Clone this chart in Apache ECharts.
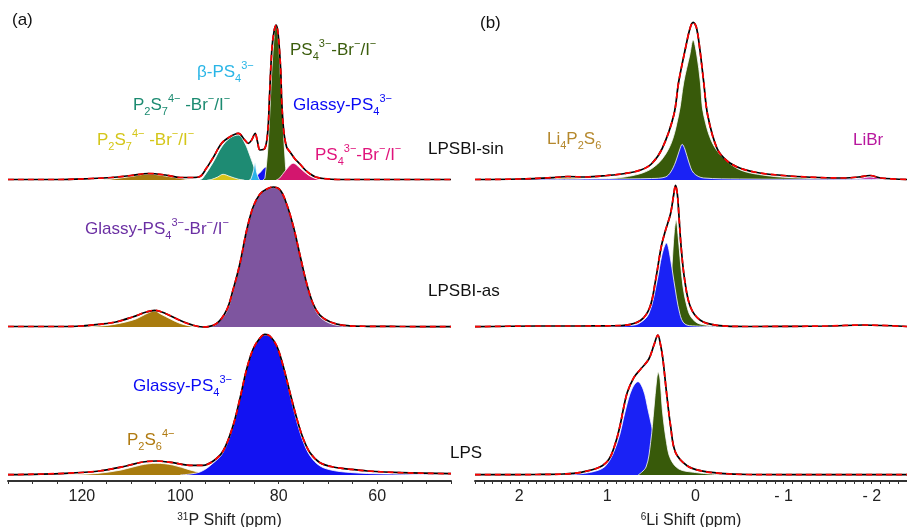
<!DOCTYPE html>
<html>
<head>
<meta charset="utf-8">
<script src="https://cdn.jsdelivr.net/npm/echarts@6/dist/echarts.min.js"></script>
<style>
  html, body { margin: 0; padding: 0; background: #fff; }
  #chart { width: 907px; height: 527px; }
</style>
</head>
<body>
<div id="chart"></div>
<script>
// ---------- 31P MAS NMR (panel a): [ppm, intensity] ----------
const pSinTotal = [[135,0.5],[125,0.5],[118,1.5],[114,2.5],[110,4.5],[106.5,6.5],[103,5],[100,2.5],[97.5,2.5],[96,3.5],[94.7,11.7],[93.4,21.7],[91.6,36.7],[89.9,43.3],[88.2,46.7],[86.9,40],[86.2,36.7],[85.5,40],[84.8,46.7],[84.3,38],[83.8,30],[82.8,31.7],[82.2,50],[81.9,80],[81.4,130],[80.9,150],[80.5,155],[80.1,145],[79.6,110],[79.4,80],[79.0,50],[78.4,33],[77.7,28],[76.7,21],[75.7,16],[74.6,10],[73.6,6],[72.5,3],[71,1.5],[68,0.5],[60,0.5],[45,0.5]];
const pSinP2S6 = [[116,0],[114.5,0.5],[110,3.5],[106.5,6],[103,4],[100,1.5],[98,0]];
const pSinP2S7 = [[96,0],[95.4,2],[93.4,17],[91.6,33],[89.9,42],[88.2,45],[86.9,37],[85.9,25],[84.8,10],[84.1,2],[83.8,0]];
const pSinP2S7b = [[94.5,0],[93.7,0.5],[92.4,3],[91.3,5.7],[89.9,3.5],[88.2,0.8],[87,0]];
const pSinBeta = [[85.9,0],[85.7,0.5],[85.2,8],[84.8,16.7],[84.5,8],[84.0,0.5],[83.8,0]];
const pSinGlassy = [[86,0],[85.6,0.5],[84.1,6],[82.4,13.3],[81.1,9],[79.8,3],[78.4,0.5],[77.5,0]];
const pSinPS4 = [[83.2,0],[82.8,2],[82.1,40],[81.4,110],[80.8,150],[80.5,155],[80.1,140],[79.4,80],[78.7,20],[78.4,5],[77.9,0]];
const pSinPS4b = [[80.5,0],[79.8,2],[78.7,9],[77.0,16.7],[75.7,12],[74.0,5],[72.3,1],[71,0]];

const pAsTotal = [[135,0.5],[125,0.5],[120,1],[116.4,2.7],[113.1,5],[109.7,10],[106.9,15],[105.2,16.7],[102.9,13.3],[100.1,6.7],[97.4,1.7],[95.4,0],[92.7,3.3],[90.6,16.7],[89.3,36.7],[87.9,63],[86.5,97],[85.2,120],[83.8,133],[82.4,138],[81.1,140],[79.7,137],[78.4,123],[77.0,100],[75.6,70],[74.3,43],[73.0,23],[71.6,11.7],[69.5,5],[66.8,1.7],[62,0.7],[55,0.5],[45,0.3]];
const pAsP2S6 = [[120,0],[118,0.5],[115,1.5],[112,4],[109,8],[107,13],[105.2,16],[104,13],[102,8],[100,3.5],[97.5,0.5],[96,0]];
const pAsGlassy = [[97,0],[94,0.5],[92.7,2.5],[90.6,15],[89.3,35],[87.9,62],[86.5,96],[85.2,119],[83.8,132],[82.4,137.5],[81.1,139.5],[79.7,136.5],[78.4,122],[77.0,99],[75.6,69],[74.3,42],[73.0,22],[71.6,10],[69.5,3.5],[66.8,0.8],[62,0]];

const pLpsTotal = [[135,0.3],[123.3,1.7],[116.5,4],[111,9],[107.6,13],[104.9,14],[101.5,12.3],[98.1,9.7],[95.4,9.7],[93.3,14],[91.3,24],[89.3,49],[87.9,76],[86.5,106],[85.2,126],[83.8,137],[82.8,140.7],[81.8,139],[80.4,129],[79.1,109],[77.7,82],[76.3,56],[75.0,36],[73.6,22],[71.6,12.3],[68.9,8],[65.4,5.7],[62,4],[55.2,2.3],[45,1.3]];
const pLpsP2S6 = [[124,0],[122,0.3],[117,1.5],[112,5],[108,10],[104.9,11.7],[101.5,10],[98,5],[95,1.5],[92,0]];
const pLpsGlassy = [[100,0],[96,3],[93.3,12],[91.3,22.5],[89.3,48],[87.9,75.5],[86.5,105.5],[85.2,125.5],[83.8,136.5],[82.8,140],[81.8,138.5],[80.4,128.5],[79.1,108],[77.7,80],[76.3,53],[75.0,33],[73.6,19],[71.6,9],[68.9,4.5],[65.4,2.5],[62,1.5],[55.2,0.8],[45,0.3]];

// ---------- 6Li MAS NMR (panel b): [ppm, intensity] ----------
const liSinTotal = [[2.5,0.5],[2.0,1],[1.6,2.5],[1.45,3.5],[1.25,3],[1.0,4.5],[0.8,6.5],[0.62,10],[0.5,16],[0.376,31.7],[0.245,65],[0.19,98],[0.113,131.7],[0.06,152],[0.026,157.7],[-0.01,153],[-0.049,131.7],[-0.094,98],[-0.139,65],[-0.245,31.7],[-0.36,19],[-0.51,11.7],[-0.73,7],[-1.07,4],[-1.4,2.5],[-1.7,2],[-1.85,3],[-1.98,4.5],[-2.1,2],[-2.4,0.5]];
const liSinPS4 = [[1.6,0.5],[1.2,1],[0.8,3],[0.49,11.7],[0.30,31.7],[0.19,65],[0.132,98],[0.064,125],[0.026,140],[-0.016,125],[-0.056,98],[-0.094,65],[-0.226,31.7],[-0.47,11.7],[-0.8,4.5],[-1.2,2],[-1.8,0.8],[-2.4,0.3]];
const liSinGlassy = [[2.4,0.5],[1.0,1],[0.5,1.5],[0.34,3],[0.28,8],[0.225,18],[0.18,30],[0.15,35.7],[0.12,31],[0.075,18],[0.02,7],[-0.094,2],[-0.5,1],[-1.5,0.7],[-2.4,0.5]];
const liSinLi4P2S6 = [[1.95,0],[1.7,1],[1.45,2.5],[1.2,1],[1.0,0]];
const liSinLiBr = [[-1.75,0],[-1.88,1.8],[-1.98,3],[-2.08,1.8],[-2.2,0]];

const liAsTotal = [[2.5,0.3],[1.8,1],[1.3,1],[1.0,1.2],[0.81,1.7],[0.62,6.7],[0.516,20],[0.452,46.7],[0.388,80],[0.339,96.7],[0.282,113.3],[0.245,133],[0.226,141.7],[0.205,133],[0.188,113],[0.162,80],[0.121,46.7],[0.056,20],[-0.056,6.7],[-0.245,1.7],[-0.6,0.5],[-1.5,1],[-1.9,2],[-2.4,0.5]];
const liAsPS4 = [[0.5,0],[0.35,3],[0.3,15],[0.264,63],[0.24,95],[0.218,107],[0.195,90],[0.17,65],[0.14,40],[0.1,22],[0.05,10],[-0.05,3],[-0.3,1],[-1,0]];
const liAsGlassy = [[1.2,0],[1.0,0.5],[0.75,1.5],[0.64,3.5],[0.528,13.3],[0.433,46.7],[0.38,72],[0.328,84],[0.29,72],[0.245,46.7],[0.177,13.3],[0.12,3],[0.0,1],[-0.5,0]];

const liLpsTotal = [[2.5,0.3],[1.8,0.5],[1.5,1],[1.3,2.7],[1.09,7.7],[0.979,16],[0.904,32.7],[0.855,49.3],[0.817,66],[0.772,82.7],[0.697,97.7],[0.62,106],[0.528,116],[0.47,130],[0.426,140],[0.395,130],[0.369,116],[0.328,82.7],[0.282,49.3],[0.226,22.7],[0.094,9.3],[-0.056,4.3],[-0.28,1.7],[-0.6,0.5],[-1.5,0.3],[-2.4,0.3]];
const liLpsGlassy = [[1.5,0],[1.19,2.7],[1.017,9.3],[0.885,32.7],[0.79,66],[0.72,86],[0.652,93.3],[0.59,85],[0.539,66],[0.497,49.3],[0.452,32.7],[0.395,16],[0.28,6],[0.15,2.5],[0.02,1],[-0.5,0]];
const liLpsPS4 = [[0.65,0],[0.56,8],[0.508,32.7],[0.471,66],[0.44,95],[0.422,102.7],[0.4,95],[0.376,66],[0.328,32.7],[0.282,16],[0.188,6],[0.019,2.7],[-0.3,0]];

// axis tick labels
const pTickLabels = [120, 100, 80, 60];
const liTickLabels = [2, 1, 0, -1, -2];

// ---------- layout ----------
const FONT = 'Liberation Sans, Arial, sans-serif';
const OFF = { top: 301, mid: 154, bot: 6 };

function trace(g, data, off, color, dashed) {
  return {
    type: 'line', xAxisIndex: g, yAxisIndex: g,
    data: data.map(d => [d[0], d[1] + off]),
    smooth: 0.35, symbol: 'none', clip: false, silent: true,
    z: dashed ? 5 : 4,
    lineStyle: { color: color, width: 1.7, type: dashed ? [6, 4] : 'solid' }
  };
}
function peak(g, data, off, fill, z) {
  return {
    type: 'line', xAxisIndex: g, yAxisIndex: g,
    data: data.map(d => [d[0], d[1] + off]),
    smooth: 0.35, symbol: 'none', clip: false, silent: true,
    z: 2 + (z || 0) * 0.01,
    lineStyle: { color: '#ffffff', width: 0.8 },
    areaStyle: { color: fill, opacity: 1, origin: off }
  };
}
function spectrum(g, off, total, comps) {
  const s = comps.map((c, i) => peak(g, c[0], off, c[1], i));
  s.push(trace(g, total, off, '#000000', false));
  s.push(trace(g, total, off, '#ff0000', true));
  return s;
}

const C = {
  brown: '#a87b0e', teal: '#1e8b73', yellow: '#d6c41a', cyan: '#2bb3e8',
  blue: '#1212f2', green: '#3a5c0b', pink: '#d3166e', purple: '#7e559f',
  blue2: '#1a22f5', green2: '#385a0a', liBrown: '#c9a24a', liMag: '#b8179e'
};

const series = [].concat(
  spectrum(0, OFF.top, pSinTotal, [[pSinP2S6, C.brown], [pSinP2S7, C.teal], [pSinP2S7b, C.yellow], [pSinGlassy, C.blue], [pSinBeta, C.cyan], [pSinPS4, C.green], [pSinPS4b, C.pink]]),
  spectrum(0, OFF.mid, pAsTotal, [[pAsP2S6, C.brown], [pAsGlassy, C.purple]]),
  spectrum(0, OFF.bot, pLpsTotal, [[pLpsP2S6, C.brown], [pLpsGlassy, C.blue]]),
  spectrum(1, OFF.top, liSinTotal, [[liSinLi4P2S6, C.liBrown], [liSinLiBr, C.liMag], [liSinPS4, C.green2], [liSinGlassy, C.blue2]]),
  spectrum(1, OFF.mid, liAsTotal, [[liAsPS4, C.green2], [liAsGlassy, C.blue2]]),
  spectrum(1, OFF.bot, liLpsTotal, [[liLpsGlassy, C.blue2], [liLpsPS4, C.green2]])
);

function xAxisCfg(g, min, max, step, labels, fmt, name) {
  return {
    type: 'value', gridIndex: g, min: min, max: max, interval: step, inverse: true,
    axisLine: { lineStyle: { color: '#333', width: 2 } },
    axisTick: { show: true, interval: 0, length: 3, lineStyle: { color: '#333', width: 1 } },
    splitLine: { show: false },
    axisLabel: {
      interval: 0, margin: 8, color: '#222', fontSize: 16, fontFamily: FONT,
      formatter: v => {
        const hit = labels.find(l => Math.abs(l - v) < step / 10);
        return hit === undefined ? '' : fmt(hit);
      }
    },
    name: name, nameLocation: 'middle', nameGap: 31,
    nameTextStyle: {
      color: '#222', fontSize: 16, fontFamily: FONT,
      rich: { sup: { fontSize: 10, verticalAlign: 'top', lineHeight: 10, fontFamily: FONT, color: '#222' },
              n: { fontSize: 16, fontFamily: FONT, color: '#222', lineHeight: 18 } }
    }
  };
}

const yAxes = [0, 1].map(g => ({ type: 'value', gridIndex: g, min: 0, max: 481, show: false }));

// rich text styles for chemical formulas
function rich(color) {
  const base = { fontSize: 17, fontFamily: FONT, fill: color, lineHeight: 24 };
  return {
    n: base,
    sub: { fontSize: 11, fontFamily: FONT, fill: color, verticalAlign: 'bottom', lineHeight: 11 },
    sup: { fontSize: 11, fontFamily: FONT, fill: color, verticalAlign: 'top', lineHeight: 11 }
  };
}
function label(x, y, text, color) {
  return {
    type: 'text', x: x, y: y, silent: true, z: 10,
    style: { text: text, fill: color, fontSize: 17, fontFamily: FONT, verticalAlign: 'middle', align: 'left', rich: rich(color) }
  };
}

const graphics = [
  label(12, 20, '{n|(a)}', '#111'),
  label(480, 23, '{n|(b)}', '#111'),
  label(290, 50, '{n|PS}{sub|4}{sup|3−}{n|-Br}{sup|−}{n|/I}{sup|−}', '#3b5d0c'),
  label(197, 72, '{n|β-PS}{sub|4}{sup|3−}', '#29b5e6'),
  label(133, 105, '{n|P}{sub|2}{n|S}{sub|7}{sup|4−}{n| -Br}{sup|−}{n|/I}{sup|−}', '#1b8a70'),
  label(293, 105, '{n|Glassy-PS}{sub|4}{sup|3−}', '#0a0af5'),
  label(97, 140, '{n|P}{sub|2}{n|S}{sub|7}{sup|4−}{n| -Br}{sup|−}{n|/I}{sup|−}', '#d4c619'),
  label(315, 155, '{n|PS}{sub|4}{sup|3−}{n|-Br}{sup|−}{n|/I}{sup|−}', '#e0147c'),
  label(428, 149, '{n|LPSBI-sin}', '#111'),
  label(547, 139, '{n|Li}{sub|4}{n|P}{sub|2}{n|S}{sub|6}', '#b5882c'),
  label(853, 140, '{n|LiBr}', '#b8179e'),
  label(85, 229, '{n|Glassy-PS}{sub|4}{sup|3−}{n|-Br}{sup|−}{n|/I}{sup|−}', '#6b2fa3'),
  label(428, 291, '{n|LPSBI-as}', '#111'),
  label(133, 386, '{n|Glassy-PS}{sub|4}{sup|3−}', '#0a0af5'),
  label(127, 440, '{n|P}{sub|2}{n|S}{sub|6}{sup|4−}', '#b07a10'),
  label(450, 453, '{n|LPS}', '#111')
];

const chart = echarts.init(document.getElementById('chart'), null, { renderer: 'canvas' });
chart.setOption({
  animation: false,
  backgroundColor: '#ffffff',
  grid: [
    { left: 8, width: 443, top: 0, height: 481, outerBoundsMode: 'none', containLabel: false },
    { left: 475, right: 0, top: 0, height: 481, outerBoundsMode: 'none', containLabel: false }
  ],
  xAxis: [
    xAxisCfg(0, 45, 135, 5, pTickLabels, v => String(v), '{sup|31}{n|P Shift (ppm)}'),
    xAxisCfg(1, -2.4, 2.5, 0.1, liTickLabels, v => (v < 0 ? '- ' + Math.abs(v) : String(v)), '{sup|6}{n|Li Shift (ppm)}')
  ],
  yAxis: yAxes,
  series: series,
  graphic: graphics
});
</script>
</body>
</html>
